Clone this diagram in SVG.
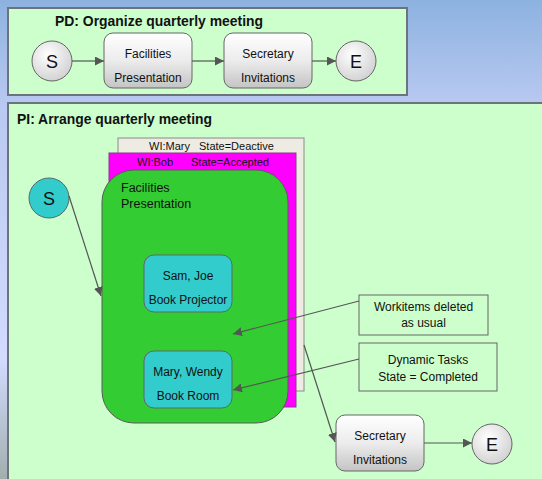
<svg xmlns="http://www.w3.org/2000/svg" width="542" height="479" viewBox="0 0 542 479">
<defs>
<linearGradient id="bg" x1="0" y1="0" x2="0" y2="1">
<stop offset="0" stop-color="#8db2e0"/>
<stop offset="0.22" stop-color="#b9c9f1"/>
<stop offset="0.75" stop-color="#d3dbff"/>
<stop offset="1" stop-color="#a2aeae"/>
</linearGradient>
<linearGradient id="gnode" x1="0" y1="0" x2="0" y2="1">
<stop offset="0" stop-color="#ffffff"/>
<stop offset="0.5" stop-color="#ececec"/>
<stop offset="1" stop-color="#c4c4c4"/>
</linearGradient>
<radialGradient id="gcirc" cx="0.4" cy="0.35" r="0.7">
<stop offset="0" stop-color="#ffffff"/>
<stop offset="1" stop-color="#d0d0d0"/>
</radialGradient>
<marker id="arr" viewBox="0 0 10 10" refX="10" refY="5" markerWidth="9" markerHeight="9" markerUnits="userSpaceOnUse" orient="auto">
<path d="M0,0 L10,5 L0,10 z" fill="#555"/>
</marker>
</defs>
<style>
.panel{fill:#ccffcc;stroke:#6b737b;stroke-width:2}
.gn{fill:url(#gnode);stroke:#666;stroke-width:1}
.gc{fill:url(#gcirc);stroke:#666;stroke-width:1}
.t{font-family:"Liberation Sans",Arial,sans-serif;fill:#111}
.s{font-size:12px;text-anchor:middle}
.big{font-size:18px;text-anchor:middle}
.title{font-size:14.5px;font-weight:bold}
.con{stroke:#555;stroke-width:1.2;fill:none;marker-end:url(#arr)}
.note{fill:#ccffcc;stroke:#666;stroke-width:1}
</style>
<rect x="0" y="0" width="542" height="479" fill="url(#bg)"/>

<g id="pd-panel">
<rect class="panel" x="8" y="8" width="399" height="87"/>
<text class="t title" x="55" y="26" textLength="208" lengthAdjust="spacingAndGlyphs">PD: Organize quarterly meeting</text>
</g>
<g id="pd-start">
<circle class="gc" cx="52" cy="61" r="20"/>
<text class="t big" x="52" y="67.5">S</text>
</g>
<g id="pd-facilities">
<rect class="gn" x="104" y="33" width="88" height="55" rx="9"/>
<text class="t s" x="148" y="58">Facilities</text>
<text class="t s" x="148" y="82">Presentation</text>
</g>
<g id="pd-secretary">
<rect class="gn" x="224" y="33" width="88" height="55" rx="9"/>
<text class="t s" x="268" y="58">Secretary</text>
<text class="t s" x="268" y="82">Invitations</text>
</g>
<g id="pd-end">
<circle class="gc" cx="356" cy="61" r="20"/>
<text class="t big" x="356" y="67.5">E</text>
</g>

<g id="pi-panel">
<rect class="panel" x="8" y="103" width="545" height="390"/>
<text class="t title" x="17" y="124" textLength="195" lengthAdjust="spacingAndGlyphs">PI: Arrange quarterly meeting</text>
</g>
<g id="wi-mary">
<rect x="118" y="138" width="186" height="253" fill="#eeebe2" stroke="#8a8a8a" stroke-width="1"/>
<text class="t" x="149" y="150" font-size="11">WI:Mary</text>
<text class="t" x="199" y="150" font-size="11">State=Deactive</text>
</g>
<g id="wi-bob">
<rect x="109" y="153" width="187" height="254" fill="#ff00ff" stroke="#8a3a8a" stroke-width="1"/>
<text class="t" x="137" y="166" font-size="11">WI:Bob</text>
<text class="t" x="191" y="166" font-size="11">State=Accepted</text>
</g>
<g id="pi-facilities">
<rect x="102" y="170" width="186" height="253" rx="32" fill="#33cc33" stroke="#5a5a5a" stroke-width="1"/>
<text class="t" x="121" y="192" font-size="12.5">Facilities</text>
<text class="t" x="121" y="208" font-size="12.5">Presentation</text>
</g>
<g id="task-sam-joe">
<rect x="144" y="255" width="88" height="57" rx="10" fill="#33cccc" stroke="#5a6a6a" stroke-width="1"/>
<text class="t s" x="188" y="280">Sam, Joe</text>
<text class="t s" x="188" y="304">Book Projector</text>
</g>
<g id="task-mary-wendy">
<rect x="144" y="351" width="88" height="57" rx="10" fill="#33cccc" stroke="#5a6a6a" stroke-width="1"/>
<text class="t s" x="188" y="376">Mary, Wendy</text>
<text class="t s" x="188" y="400">Book Room</text>
</g>
<g id="pi-start">
<circle cx="49" cy="198" r="20" fill="#33cccc" stroke="#5a6a6a" stroke-width="1"/>
<text class="t big" x="49" y="204.5">S</text>
</g>
<g id="note-deleted">
<rect class="note" x="359" y="295" width="129" height="40"/>
<text class="t s" x="423.5" y="311">Workitems deleted</text>
<text class="t s" x="423.5" y="327">as usual</text>
</g>
<g id="note-dynamic">
<rect class="note" x="359" y="343" width="138" height="48"/>
<text class="t s" x="428" y="364">Dynamic Tasks</text>
<text class="t s" x="428" y="381">State = Completed</text>
</g>
<g id="pi-secretary">
<rect class="gn" x="336" y="415" width="88" height="56" rx="9"/>
<text class="t s" x="380" y="440">Secretary</text>
<text class="t s" x="380" y="464">Invitations</text>
</g>
<g id="pi-end">
<circle class="gc" cx="492" cy="444" r="20"/>
<text class="t big" x="492" y="450.5">E</text>
</g>

<g id="connectors">
<line class="con" x1="72" y1="61" x2="104" y2="61"/>
<line class="con" x1="192" y1="61" x2="224" y2="61"/>
<line class="con" x1="312" y1="61" x2="336" y2="61"/>
<line class="con" x1="69" y1="196" x2="101" y2="296"/>
<line class="con" x1="359" y1="301" x2="233" y2="334"/>
<line class="con" x1="359" y1="359" x2="233" y2="390"/>
<line class="con" x1="304" y1="345" x2="335" y2="442"/>
<line class="con" x1="424" y1="443" x2="472" y2="443"/>
</g>
</svg>
